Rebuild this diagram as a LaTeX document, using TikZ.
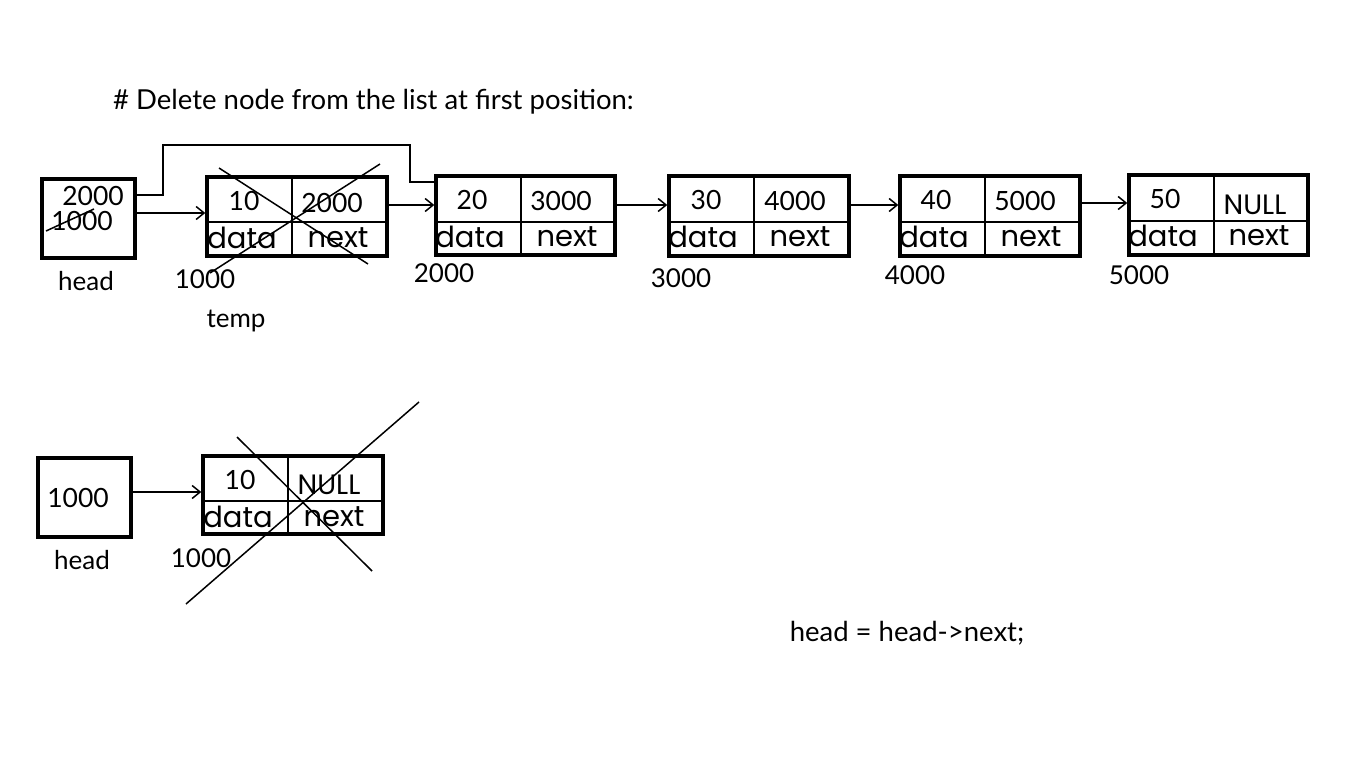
\documentclass[tikz,border=0pt]{standalone}
\usepackage{fontspec}
\setmainfont{Lato}
\newfontfamily\cellfont{Poppins}
\usetikzlibrary{arrows.meta}
\begin{document}
\begin{tikzpicture}[x=1pt,y=-1pt,
 box/.style={draw, line width=3.4pt, inner sep=0pt},
 div/.style={line width=1.5pt},
 arr/.style={line width=1.5pt,-{Straight Barb[length=8pt,width=13pt,line width=1.5pt]}},
 val/.style={font=\fontsize{26.5}{30}\selectfont, inner sep=0pt},
 nul/.style={font=\cellfont\fontsize{28}{32}\selectfont, inner sep=0pt},
 fld/.style={font=\cellfont\fontsize{29}{34}\selectfont, inner sep=0pt},
 lbl/.style={font=\fontsize{26}{30}\selectfont, inner sep=0pt},
 big/.style={font=\fontsize{27.5}{32}\selectfont, inner sep=0pt},
 cross/.style={line width=1.5pt}]
\useasboundingbox (0,0) rectangle (1345,757);

% title
\node[big, anchor=west] (title) at (113,102) {\# Delete node from the list at first position:};

% ---------- top row ----------
\node[box, minimum width=93pt, minimum height=79pt] (h1) at (88.5,218.5) {};
\node[val] (h1new) at (93,196) {2000};
\node[val] (h1old) at (82,221) {1000};
\draw[div] (46,231) -- (94,209);
\node[lbl] (h1lbl) at (86,281) {head};

% node 1
\node[box, minimum width=180pt, minimum height=79pt] (n1) at (297,216.5) {};
\draw[div] (292,177) -- (292,256);
\draw[div] (205,222) -- (387,222);
\node[val] (n1d) at (244,201) {10};
\node[val] (n1n) at (332,203) {2000};
\node[fld] (n1a) at (242,238) {data};
\node[fld] (n1b) at (338,238) {next};
\node[lbl] (n1addr) at (205,279) {1000};
\node[lbl] (temp) at (236,321) {temp};
\draw[cross] (219,168) -- (368,264);
\draw[cross] (380,164) -- (210,273);

% node 2
\node[box, minimum width=179pt, minimum height=79pt] (n2) at (525.5,215.5) {};
\draw[div] (521,176) -- (521,255);
\draw[div] (434,222) -- (615,222);
\node[val] (n2d) at (472,200) {20};
\node[val] (n2n) at (561,201) {3000};
\node[fld] (n2a) at (470,237) {data};
\node[fld] (n2b) at (567,237) {next};
\node[lbl] (n2addr) at (444,273) {2000};

% node 3
\node[box, minimum width=180pt, minimum height=80pt] (n3) at (759,216) {};
\draw[div] (754,176) -- (754,256);
\draw[div] (667,222) -- (849,222);
\node[val] (n3d) at (706,200) {30};
\node[val] (n3n) at (795,201) {4000};
\node[fld] (n3a) at (703,237) {data};
\node[fld] (n3b) at (800,237) {next};
\node[lbl] (n3addr) at (681,278) {3000};

% node 4
\node[box, minimum width=180pt, minimum height=80pt] (n4) at (990,216) {};
\draw[div] (985,176) -- (985,256);
\draw[div] (898,222) -- (1080,222);
\node[val] (n4d) at (936,200) {40};
\node[val] (n4n) at (1025,201) {5000};
\node[fld] (n4a) at (934,237) {data};
\node[fld] (n4b) at (1031,237) {next};
\node[lbl] (n4addr) at (915,275) {4000};

% node 5
\node[box, minimum width=179pt, minimum height=80pt] (n5) at (1218.5,215) {};
\draw[div] (1214,175) -- (1214,255);
\draw[div] (1127,221) -- (1308,221);
\node[val] (n5d) at (1165,199) {50};
\node[nul] (n5n) at (1255,205) {NULL};
\node[fld] (n5a) at (1163,236) {data};
\node[fld] (n5b) at (1259,236) {next};
\node[lbl] (n5addr) at (1139,275) {5000};

% connectors top
\draw[arr] ([yshift=5.5pt]h1.east) -- ([yshift=5.5pt]h1.east -| n1.west);
\coordinate (c1) at (163,145);
\coordinate (c2) at (410,182);
\draw[div] ([yshift=23.5pt]h1.east) -| (c1) -| (c2) -- (c2 -| n2.west);
\draw[arr] ([yshift=11.5pt]n1.east) -- ([yshift=11.5pt]n1.east -| n2.west);
\draw[arr] ([yshift=10.5pt]n2.east) -- ([yshift=10.5pt]n2.east -| n3.west);
\draw[arr] ([yshift=11pt]n3.east) -- ([yshift=11pt]n3.east -| n4.west);
\draw[arr] ([yshift=13pt]n4.east) -- ([yshift=13pt]n4.east -| n5.west);

% ---------- bottom row ----------
\node[box, minimum width=93pt, minimum height=79pt] (h2) at (84.5,497.5) {};
\node[val] (h2v) at (78,498) {1000};
\node[lbl] (h2lbl) at (82,560) {head};

\node[box, minimum width=180pt, minimum height=78pt] (m1) at (293,495) {};
\draw[div] (288,456) -- (288,534);
\draw[div] (201,501) -- (383,501);
\node[val] (m1d) at (240,480) {10};
\node[nul] (m1n) at (329,485) {NULL};
\node[fld] (m1a) at (238,517) {data};
\node[fld] (m1b) at (334,517) {next};
\node[lbl] (m1addr) at (201,558) {1000};
\draw[cross] (237,437) -- (372,571);
\draw[cross] (419,402) -- (186,604);
\draw[arr] ([yshift=5.5pt]h2.east) -- ([yshift=5.5pt]h2.east -| m1.west);

% code
\node[big] (code) at (907,633) {head = head->next;};
\end{tikzpicture}
\end{document}
